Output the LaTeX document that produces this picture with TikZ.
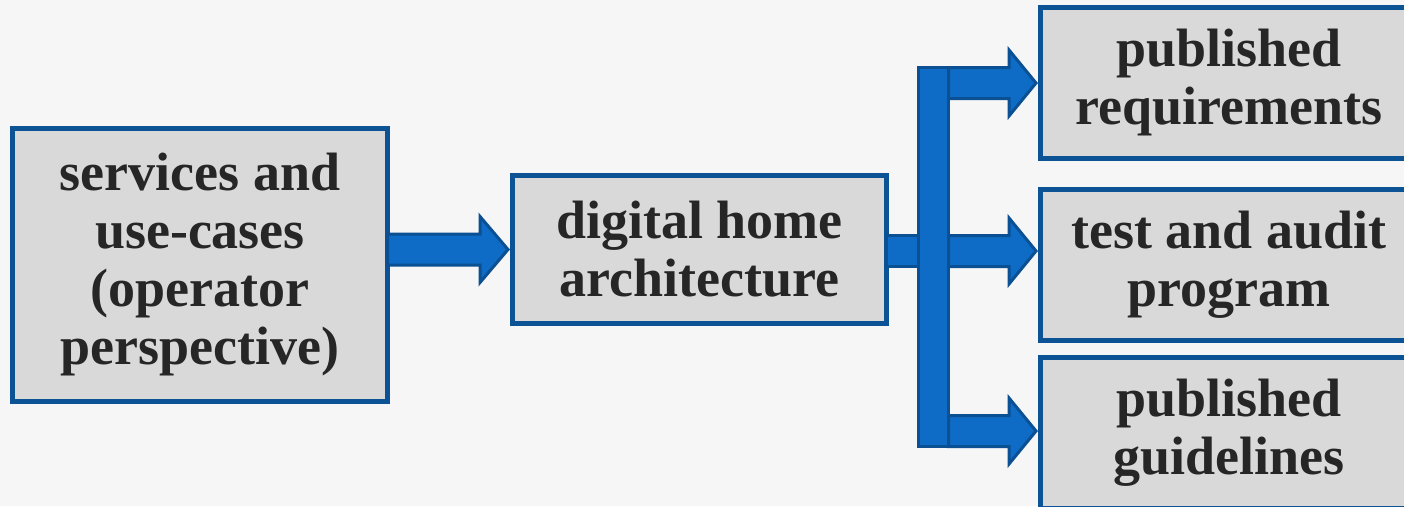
\documentclass[tikz,border=0pt]{standalone}
\usepackage{fontspec}
\setmainfont{Liberation Serif}
\usetikzlibrary{calc}
\definecolor{bgc}{HTML}{F6F6F6}
\definecolor{boxfill}{HTML}{D9D9D9}
\definecolor{boxline}{HTML}{0B5394}
\definecolor{arrfill}{HTML}{0F6CC6}
\definecolor{arrline}{HTML}{0A5092}
\definecolor{txt}{HTML}{262626}
\tikzset{
  boxnode/.style={draw=boxline, fill=boxfill, line width=5pt, inner sep=0pt, outer sep=0pt,
    align=center, text=txt, font=\bfseries\fontsize{54}{58}\selectfont},
  arrstyle/.style={draw=arrline, fill=arrfill, line width=3pt, line join=miter},
  barnode/.style={draw=arrline, fill=arrfill, line width=3pt, inner sep=0pt, outer sep=0pt,
    minimum width=30pt, minimum height=379pt}
}
\newcommand\fatarrow[3]{% start, tip, head length
  \draw[arrstyle] let \p1=(#1), \p2=(#2) in
    (\x1,\y2+15.5pt) -- (\x2-#3,\y2+15.5pt) -- (\x2-#3,\y2+33pt) -- (\x2,\y2)
    -- (\x2-#3,\y2-33pt) -- (\x2-#3,\y2-15.5pt) -- (\x1,\y2-15.5pt) -- cycle;}
\begin{document}
\begin{tikzpicture}[x=1pt,y=-1pt]
\fill[bgc] (0,0) rectangle (1404,506);
\useasboundingbox (0,0) rectangle (1404,506);
\clip (0,0) rectangle (1404,506);

% boxes
\node[boxnode, minimum width=375pt, minimum height=273pt] (b1) at (200,265)
  {services and\\use-cases\\(operator\\perspective)};
\node[boxnode, minimum width=374pt, minimum height=148pt] (b2) at (699.5,249.5)
  {digital home\\architecture};
\node[boxnode, minimum width=377pt, minimum height=151pt] (b3) at (1229,83)
  {published\\requirements};
\node[boxnode, minimum width=377pt, minimum height=151pt] (b4) at (1229,265)
  {test and audit\\program};
\node[boxnode, minimum width=377pt, minimum height=151pt] (b5) at (1229,433)
  {published\\guidelines};

% branching bar
\node[barnode] (bar) at (933.5,257) {};

% tip coordinates
\coordinate (t2) at ($(b2.west)+(-4.5,0)$);
\coordinate (t3) at ($(b3.west)+(-4.5,0)$);
\coordinate (t4) at ($(b4.west |- b2.east)+(-4.5,1.5)$);
\coordinate (t5) at ($(b5.west)+(-4.5,-2)$);

% arrow from first box to second
\fatarrow{b1.east}{t2}{28pt}

% stub from second box to bar
\draw[arrstyle] ($(b2.east)+(0,-14)$) rectangle ($(bar.west |- b2.east)+(0,17)$);

% arrows from bar to outputs
\fatarrow{bar.east}{t3}{27pt}
\fatarrow{bar.east}{t4}{27pt}
\fatarrow{bar.east}{t5}{27pt}

% redraw bar on top
\node[barnode] at (bar) {};
\end{tikzpicture}
\end{document}
